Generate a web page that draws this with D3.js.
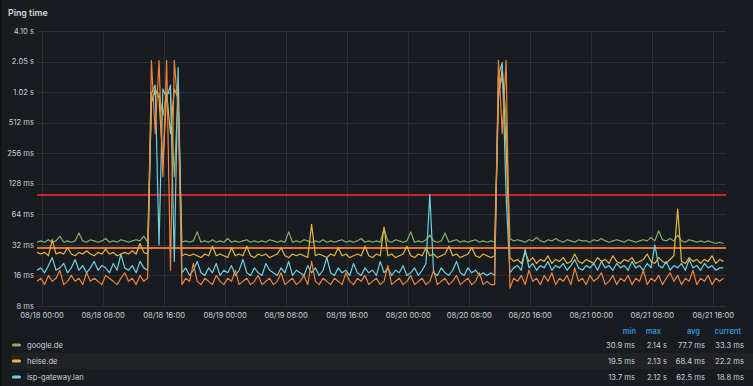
<!DOCTYPE html>
<html><head><meta charset="utf-8">
<script src="https://cdn.jsdelivr.net/npm/d3@7"></script>
<style>html,body{margin:0;padding:0;background:#181b1f;overflow:hidden}svg{display:block}</style>
</head><body>
<svg id="c" width="753" height="386"></svg>
<script>
// ---------- data ----------
const title = "Ping time";
const startTime = "2021-08-17T23:20:00Z";
const endTime = "2021-08-21T17:40:00Z";
const stepMinutes = 30;

const seriesNames = ["google.de", "heise.de", "isp-gateway.lan", "other"];
const seriesColors = ["#7EB26D", "#EAB839", "#6ED0E0", "#EF843C"];

const googleMs = [
 34,35,34,36,34,35,39,34,35,34,35,42,35,34,36,35,34,35,37,34,35,34,36,35,34,35,36,35,39,34,
 900,1000,1000,600,1000,1000,150,1000,
 34,35,34,35,43,34,35,34,36,34, 35,34,37,34,35,34,35,36,34,35, 34,35,34,36,35,34,35,34,43,34,
 35,34,36,35,34,35,34,36,34,35, 34,35,36,34,35,34,35,37,34,35, 34,35,34,46,35,34,36,35,34,35,
 43,34,35,34,36,40,35,34,35,42, 34,35,36,34,35,34,35,36,34,35, 34,35,34,
 1000,1500,600,
 37,35,36,35,34,36,35,38,35,34, 36,35,37,35,34,36,35,34,36,35, 35,34,36,35,37,35,34,35,36,35,
 34,36,35,34,35,36,35,38,35,44, 36,35,37,35,40,35,34,36,35,34, 35,34,35,34,33,34,33
];
const heiseMs = [
 27,26,27,25,36,26,27,26,30,26,25,27,26,28,26,25,27,26,29,26,27,25,26,27,26,28,26,33,27,26,
 800,1100,900,200,1000,400,1100,900,
 25,26,25,26,25,24,26,25,31,25, 26,25,24,30,25,26,25,31,25,24, 26,25,26,24,25,26,30,25,24,26,
 25,26,25,24,51,25,26,25,24,26, 25,30,25,26,24,25,26,25,31,25, 24,26,25,48,25,26,24,25,26,31,
 25,24,26,25,30,25,26,24,25,26, 31,25,26,24,25,26,30,25,24,26, 25,24,25,
 900,1800,300,
 24,22,23,21,27,22,24,21,23,22, 25,21,23,22,24,21,22,26,22,21, 23,22,21,24,22,23,21,25,22,21,
 23,22,24,21,22,23,26,22,21,24, 22,21,23,25,72,22,21,24,22,23, 21,23,22,25,21,23,22
];
const ispGatewayMs = [
 18,19,17,20,24,18,19,21,17,19,23,18,20,17,19,22,18,20,19,17,21,18,26,19,18,20,17,22,19,18,
 1000,1200,32,1100,900,1200,22,1800,
 17,19,16,18,22,17,16,19,17,21, 16,18,17,20,16,18,23,17,16,19, 17,16,21,18,17,16,19,17,22,16,
 18,17,16,20,17,19,16,18,24,17, 16,19,17,18,16,21,17,16,19,17, 18,16,22,17,19,16,18,17,20,16,
 17,19,16,18,21,100,17,16,19,17, 16,18,22,17,16,19,17,18,16,17, 16,17,16,
 1500,2000,100,
 17,19,20,18,29,19,21,18,20,19, 22,18,20,19,21,18,20,23,19,18, 20,19,21,18,22,19,20,18,21,19,
 20,18,22,19,20,18,21,19,32,20, 19,22,18,20,19,21,18,23,19,20, 18,21,19,20,18,19,19
];
const otherMs = [
 14,15,13,16,14,15,18,13,14,16,14,15,13,17,14,15,14,13,16,15,14,13,15,17,14,15,13,16,14,15,
 2100,400,2100,150,2100,18,2100,700,
 13,15,14,21,14,13,15,14,13,16, 14,13,15,14,18,13,14,15,13,14, 16,13,14,15,13,14,17,13,14,15,
 13,14,16,13,22,14,13,15,14,13, 15,14,13,17,14,13,15,14,16,13, 14,15,13,14,20,13,14,15,13,14,
 16,13,14,15,13,14,18,13,14,15, 13,14,16,13,14,15,13,14,17,13, 14,13,13,
 2100,400,2100,
 12,15,14,16,13,18,14,15,13,16, 14,17,13,15,14,16,13,19,14,15, 13,16,14,15,17,13,14,16,13,15,
 14,16,13,15,14,18,13,15,14,16, 13,15,17,14,16,13,15,14,18,13, 15,14,16,13,15,14,15
];

const yTicks = [8, 16, 32, 64, 128, 256, 512, 1024, 2048, 4096];
const yTickLabels = ["8 ms","16 ms","32 ms","64 ms","128 ms","256 ms","512 ms","1.02 s","2.05 s","4.10 s"];
const xTicks = ["2021-08-18T00:00:00Z","2021-08-18T08:00:00Z","2021-08-18T16:00:00Z","2021-08-19T00:00:00Z",
  "2021-08-19T08:00:00Z","2021-08-19T16:00:00Z","2021-08-20T00:00:00Z","2021-08-20T08:00:00Z",
  "2021-08-20T16:00:00Z","2021-08-21T00:00:00Z","2021-08-21T08:00:00Z","2021-08-21T16:00:00Z"];
const xTickLabels = ["08/18 00:00","08/18 08:00","08/18 16:00","08/19 00:00","08/19 08:00","08/19 16:00",
  "08/20 00:00","08/20 08:00","08/20 16:00","08/21 00:00","08/21 08:00","08/21 16:00"];

const thresholdValues = [100, 30];
const thresholdColors = ["#C4262A", "#E0752D"];

const legendHeaders = ["min", "max", "avg", "current"];
const legendMin = ["30.9 ms", "19.5 ms", "13.7 ms"];
const legendMax = ["2.14 s", "2.13 s", "2.12 s"];
const legendAvg = ["77.7 ms", "68.4 ms", "62.5 ms"];
const legendCurrent = ["33.3 ms", "22.2 ms", "18.8 ms"];

// ---------- drawing ----------
const svg = d3.select("#c");
const W = 753, H = 386;
const plot = {left: 37, right: 726, top: 31, bottom: 306};
const FONT = "Inter, Roboto, 'Noto Sans', sans-serif";

svg.append("rect").attr("width", W).attr("height", H).attr("fill", "#181b1f");
svg.append("rect").attr("x", 0).attr("y", 0).attr("width", 2).attr("height", H).attr("fill", "#111215");

svg.append("text").attr("x", 8).attr("y", 15.5).attr("fill", "#d8d9da")
  .attr("font-family", FONT).attr("font-size", 8.8).attr("font-weight", 600).text(title);

const x = d3.scaleUtc().domain([new Date(startTime), new Date(endTime)]).range([plot.left, plot.right]);
const y = d3.scaleLog().base(2).domain([8, 4096]).range([plot.bottom, plot.top]);

const grid = svg.append("g");
grid.selectAll("line.h").data(yTicks).join("line")
  .attr("x1", plot.left).attr("x2", plot.right)
  .attr("y1", d => Math.round(y(d)) + 0.5).attr("y2", d => Math.round(y(d)) + 0.5)
  .attr("stroke", "#2c2f34").attr("stroke-width", 1);
grid.selectAll("line.v").data(xTicks).join("line")
  .attr("x1", d => Math.round(x(new Date(d))) + 0.5).attr("x2", d => Math.round(x(new Date(d))) + 0.5)
  .attr("y1", plot.top).attr("y2", plot.bottom)
  .attr("stroke", "#2c2f34").attr("stroke-width", 1);

// y axis labels
svg.append("g").selectAll("text").data(yTicks).join("text")
  .attr("x", 34).attr("y", d => y(d) + 2.7).attr("text-anchor", "end")
  .attr("font-family", FONT).attr("font-size", 7.6).attr("fill", "#c7d0d9")
  .text((d, i) => yTickLabels[i]);

// x axis labels
svg.append("g").selectAll("text").data(xTicks).join("text")
  .attr("x", d => x(new Date(d))).attr("y", 317.5).attr("text-anchor", "middle")
  .attr("font-family", FONT).attr("font-size", 7.6).attr("fill", "#c7d0d9")
  .text((d, i) => xTickLabels[i]);

svg.append("clipPath").attr("id", "clip").append("rect")
  .attr("x", plot.left).attr("y", plot.top - 1).attr("width", plot.right - plot.left).attr("height", plot.bottom - plot.top + 2);

// thresholds
svg.append("g").selectAll("line").data(thresholdValues).join("line")
  .attr("x1", plot.left).attr("x2", plot.right)
  .attr("y1", d => Math.round(y(d))).attr("y2", d => Math.round(y(d)))
  .attr("stroke", (d, i) => thresholdColors[i]).attr("stroke-width", 2);

const t0 = new Date(startTime).getTime();
const allSeries = [googleMs, heiseMs, ispGatewayMs, otherMs];
const line = d3.line()
  .x((d, i) => x(new Date(t0 + i * stepMinutes * 60000)))
  .y(d => y(d));

const lines = svg.append("g").attr("clip-path", "url(#clip)");
allSeries.forEach((s, k) => {
  lines.append("path").datum(s).attr("d", line)
    .attr("fill", "none").attr("stroke", seriesColors[k]).attr("stroke-width", 1.2)
    .attr("stroke-linejoin", "round");
});

// legend
const lg = svg.append("g").attr("font-family", FONT).attr("font-size", 7.6);
lg.append("rect").attr("x", 11).attr("y", 353).attr("width", W - 11).attr("height", 16).attr("fill", "#202226");
const headerX = [636, 661, 700, 741];
const valueX = [635, 667, 705, 744];
lg.selectAll("text.hdr").data(legendHeaders).join("text")
  .attr("x", (d, i) => headerX[i]).attr("y", 333.5).attr("text-anchor", "end")
  .attr("fill", "#33a2e5").attr("font-weight", 500).text(d => d);
const cols = [legendMin, legendMax, legendAvg, legendCurrent];
[0, 1, 2].forEach(r => {
  const cy = 345 + r * 16;
  lg.append("line").attr("x1", 13.5).attr("x2", 19.5).attr("y1", cy).attr("y2", cy)
    .attr("stroke", seriesColors[r]).attr("stroke-width", 3.2).attr("stroke-linecap", "round");
  lg.append("text").attr("x", 27).attr("y", cy + 2.8).attr("fill", "#c7d0d9").text(seriesNames[r]);
  cols.forEach((c, j) => {
    lg.append("text").attr("x", valueX[j]).attr("y", cy + 2.8).attr("text-anchor", "end")
      .attr("fill", "#c7d0d9").text(c[r]);
  });
});
</script>
</body></html>
